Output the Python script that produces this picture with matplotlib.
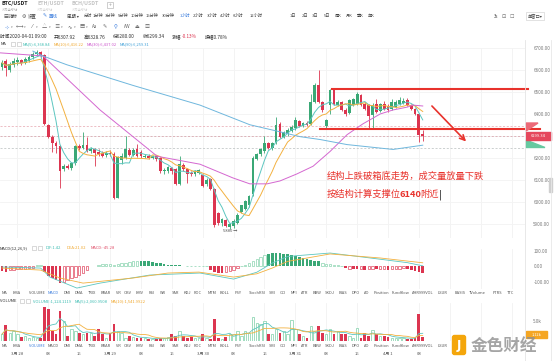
import numpy as np
import pandas as pd
import matplotlib
matplotlib.use('Agg')
import matplotlib.pyplot as plt
from matplotlib.patches import Rectangle, Polygon, FancyBboxPatch

plt.rcParams['font.family'] = ['Noto Sans CJK SC', 'DejaVu Sans']

W, H = 557, 361

# BTC/USDT 1h candles, 2020-03-27 20:00 -> 2020-04-01 09:00
opens = [6615, 6640, 6602, 6625, 6635, 6645, 6632, 6642, 6658, 6672,
         6680, 6668, 6352, 6298, 6268, 6255, 6150, 6166, 6155, 6177,
         6254, 6248, 6258, 6235, 6240, 6230, 6226, 6214, 6225, 6220,
         6021, 6190, 6200, 6238, 6215, 6240, 6230, 6205, 6212, 6200,
         6208, 6200, 6140, 6142, 6155, 6150, 6084, 6170, 6150, 6135,
         6128, 6135, 6125, 6085, 6105, 6062, 5950, 5905, 5920, 5890,
         5895, 5905, 5955, 5972, 5986, 6039, 6196, 6218, 6231, 6267,
         6245, 6276, 6356, 6298, 6310, 6325, 6335, 6368, 6345, 6362,
         6356, 6455, 6530, 6455, 6345, 6441, 6508, 6441, 6455, 6420,
         6405, 6441, 6445, 6485, 6446, 6440, 6395, 6446, 6415, 6446,
         6438, 6423, 6432, 6446, 6450, 6465, 6441, 6423, 6400, 6307.92]
highs = [6645, 6650, 6635, 6655, 6660, 6652, 6660, 6668, 6680, 6690,
         6688, 6672, 6356, 6305, 6280, 6262, 6172, 6175, 6182, 6262,
         6265, 6317, 6298, 6250, 6245, 6240, 6232, 6232, 6236, 6228,
         6212, 6225, 6300, 6245, 6245, 6265, 6236, 6220, 6218, 6215,
         6212, 6205, 6155, 6165, 6160, 6155, 6209, 6178, 6155, 6140,
         6145, 6150, 6130, 6111, 6110, 6066, 5955, 5930, 5925, 5905,
         5925, 5950, 5990, 6012, 6035, 6210, 6225, 6245, 6300, 6275,
         6275, 6387, 6365, 6325, 6335, 6350, 6387, 6375, 6365, 6368,
         6490, 6540, 6602, 6460, 6380, 6515, 6512, 6462, 6460, 6428,
         6470, 6475, 6500, 6492, 6455, 6448, 6450, 6470, 6450, 6460,
         6446, 6470, 6465, 6480, 6475, 6475, 6448, 6430, 6405, 6328.76]
lows = [6600, 6575, 6590, 6615, 6625, 6622, 6628, 6636, 6650, 6665,
        6660, 6350, 6290, 6230, 6222, 6066, 6140, 6150, 6148, 6170,
        6238, 6244, 6228, 6225, 6164, 6210, 6205, 6206, 6212, 6015,
        6018, 6175, 6195, 6208, 6210, 6205, 6200, 6200, 6195, 6195,
        6188, 6135, 6130, 6135, 6128, 6078, 6080, 6140, 6090, 6120,
        6120, 6128, 6068, 6075, 6055, 5890, 5898, 5895, 5888, 5880,
        5882, 5900, 5950, 5965, 5980, 6030, 6190, 6210, 6225, 6240,
        6238, 6265, 6290, 6290, 6300, 6318, 6330, 6340, 6340, 6345,
        6350, 6450, 6450, 6410, 6335, 6400, 6440, 6435, 6415, 6392,
        6400, 6435, 6440, 6435, 6418, 6334, 6334, 6405, 6410, 6418,
        6412, 6418, 6428, 6440, 6445, 6436, 6418, 6395, 6276, 6280.00]
closes = [6633, 6610, 6628, 6640, 6645, 6632, 6650, 6660, 6675, 6682,
          6668, 6356, 6298, 6267, 6255, 6142, 6164, 6158, 6177, 6254,
          6248, 6258, 6235, 6240, 6225, 6218, 6212, 6222, 6218, 6021,
          6205, 6212, 6240, 6215, 6238, 6212, 6209, 6212, 6200, 6208,
          6195, 6142, 6148, 6160, 6140, 6084, 6173, 6150, 6130, 6128,
          6140, 6145, 6075, 6100, 6062, 5896, 5905, 5925, 5895, 5900,
          5915, 5941, 5986, 6008, 6030, 6200, 6218, 6240, 6267, 6245,
          6268, 6352, 6298, 6320, 6330, 6343, 6374, 6345, 6360, 6352,
          6455, 6530, 6455, 6420, 6374, 6510, 6446, 6455, 6420, 6400,
          6463, 6468, 6490, 6441, 6423, 6390, 6441, 6410, 6446, 6423,
          6418, 6455, 6455, 6463, 6460, 6441, 6423, 6400, 6307, 6299.34]
volume_k = [1.7, 3.9, 2.1, 2.5, 1.7, 1.0, 1.25, 0.8, 1.0, 0.7,
            0.7, 8.5, 7.9, 2.5, 1.7, 7.5, 5.0, 1.25, 2.9, 2.5,
            2.1, 1.8, 2.1, 2.1, 1.3, 2.9, 1.7, 0.8, 2.1, 4.2,
            2.5, 2.1, 0.8, 1.25, 1.0, 0.8, 0.7, 0.8, 0.6, 0.4,
            0.4, 0.8, 0.7, 1.0, 1.7, 1.25, 2.5, 1.25, 0.8, 1.0,
            0.8, 0.8, 1.7, 0.8, 0.4, 5.6, 0.8, 0.6, 1.0, 1.7,
            1.7, 2.5, 1.25, 2.5, 2.0, 6.0, 4.6, 4.2, 5.0, 1.8,
            1.7, 2.9, 2.1, 2.5, 1.7, 5.2, 2.9, 1.7, 1.25, 0.8,
            3.75, 2.5, 3.75, 2.1, 1.8, 2.9, 1.8, 2.5, 1.7, 1.7,
            1.25, 0.8, 3.2, 0.8, 2.1, 1.25, 2.7, 1.7, 1.25, 1.25,
            1.0, 0.8, 0.8, 0.8, 0.8, 0.6, 0.4, 0.8, 6.7, 1.12]
macd_hist = [-32, -36, -28, -25, -22, -20, -18, -15, -10, 4,
             6, -40, -65, -78, -88, -110, -100, -90, -80, -68,
             -55, -42, -28, 2, 3, 10, 13, 13, 12, 6,
             12, 18, 22, 26, 30, 32, 33, 32, 30, 26,
             22, 18, 14, 10, 6, 5, 4, 3, 3, 3,
             2, 2, 3, 2, -26, -38, -45, -45, -38, -32,
             -25, -15, 3, 8, 19, 32, 45, 58, 71, 80,
             84, 84, 82, 78, 75, 70, 65, 58, 52, 45,
             40, 35, 30, 19, 15, 12, 9, 6, 1, -12,
             -18, -20, -22, -18, -24, -20, -18, -22, -20, -22,
             -24, -20, -18, -16, -14, -18, -28, -34, -40, -45.28]
# f = solid bar, h = hollow bar
macd_style = ("ff" "hhhhhhh" "hh" "fffff" "hhhhhhh" "ff" "hhhhh" "hhhhhh"
              "ffffffff" "ffff" "hhhhhh" "ffff" "hhhh" "hh" "hhhhh"
              "ffffffffffffff" "hhhhhh" "fhffhfhhfhhfhhhhfffff")

dif_idx = [0, 10, 12.4, 19.4, 25.4, 38.3, 51.3, 60, 66, 70, 74, 85, 93.5, 105, 109]
dif_val = [-6, -13, -71, -142, -110, -58, -45, -84, -40, 19, 62, 84, 58, 22, 1.42]
dea_idx = [0, 10, 15, 21, 34, 43, 51, 60, 66, 70, 74, 85, 98, 109]
dea_val = [-13, -26, -77, -110, -77, -45, -39, -71, -50, -13, 30, 78, 52, 21.02]

ma30_idx = [-0.5, 10.6, 25.4, 40.2, 51.3, 59.8, 64.2, 68.7, 72, 76.4, 80.6, 85, 89.4, 93.5, 98, 101.3, 105, 106.5, 109]
ma30_val = [6678, 6664, 6419, 6209, 6173, 6111, 6084, 6084, 6097, 6129, 6164, 6231, 6307, 6356, 6401, 6419, 6432, 6441, 6437.02]
ma90_idx = [8, 10.6, 16.8, 34, 51.3, 64.2, 72, 77.2, 82.4, 89.4, 101.3, 109]
ma90_val = [6686, 6664, 6624, 6530, 6441, 6352, 6320, 6298, 6285, 6262, 6240, 6259.31]

price_ticks = [5900, 6000, 6100, 6200, 6300, 6400, 6500, 6600, 6700]
ref_lines = [6345, 6299.34, 6246]
date_idx = [4, 12, 20, 28, 36, 44, 52, 60, 68, 76, 84, 92, 100, 108]
date_labels = ['3月 28', '08', '16', '3月 29', '08', '16', '3月 30', '08', '16',
               '3月 31', '08', '16', '4月 1', '08']
grid_idx = date_idx + [116, 124, 132]

tabs = ['MA', 'EMA', 'VOLUME', 'MACD', 'DMI', 'DMA', 'TRIX', 'BRAR', 'VR', 'OBV',
        'EMV', 'RSI', 'WR', 'SAR', 'KDJ', 'ROC', 'MTM', 'BOLL', 'PSY', 'StochRSI',
        'SMI', 'CCI', 'MFI', 'ATR', 'BBW', 'SKDJ', 'BIAS', 'DPO', 'AO', 'Position',
        'Fundflow', 'AHR999VOL', 'LSUR', 'BASIS', 'TVolume', 'FTRS', 'TTC']
tab_x = [5, 17, 37, 53, 67, 79, 92, 106, 118, 128,
         140, 152, 163, 175, 187, 198, 212, 225, 238, 257,
         272, 283, 294, 305, 317, 330, 343, 356, 367, 381,
         401, 423, 443, 460, 477, 497, 511]

periods = ['分时', '1分钟', '3分钟', '5分钟', '10分钟', '15分钟', '30分钟', '1小时', '2小时',
           '3小时', '4小时', '6小时', '12小时', '1日', '2日', '3日', '5日', '周K', '月K', '季K', '年K']
period_x = [88, 98, 110, 123, 137, 152, 168, 185, 198, 212, 225, 238, 256,
            293, 305, 315, 327, 338, 349, 360, 371]

RED = '#dc3550'
GREEN = '#3aa876'
GREEN_L = '#7ccfa6'
ANN = '#e8322c'

x0, step = 2.0, 3.86          # pixel position of candle 0 and spacing
xl = ((0 - x0) / step, (525 - x0) / step)


def i_of(xp):
    return (xp - x0) / step


fig = plt.figure(figsize=(W / 100, H / 100), dpi=100)
fig.patch.set_facecolor('white')


def add_panel(y_top, y_bot):
    a = fig.add_axes([0, 1 - y_bot / H, 525 / W, (y_bot - y_top) / H])
    a.set_xlim(*xl)
    for s in a.spines.values():
        s.set_visible(False)
    a.set_xticks([])
    a.yaxis.tick_right()
    a.tick_params(axis='y', length=0, pad=6, labelsize=3.3, labelcolor='#777777')
    for gi in grid_idx:
        a.axvline(gi, color='#f1f1f1', lw=0.6, zorder=0)
    return a


idx = np.arange(len(closes))
o = np.array(opens)
c = np.array(closes)
up = c >= o
col = np.where(up, GREEN, RED)

# ---- price panel
ax = add_panel(48, 238)
ax.set_ylim(5838.4, 6686.6)
ax.set_yticks(price_ticks)
# the 6300 label sits under the last-price tag
ax.set_yticklabels(['' if v == 6300 else f'{v:.2f}' for v in price_ticks])
for v in price_ticks:
    ax.axhline(v, color='#f3f3f3', lw=0.6, zorder=0)
for v, lc in zip(ref_lines, ['#eab3bb', '#d9a9b0', '#c4c9c9']):
    ax.axhline(v, color=lc, lw=0.6, ls=(0, (2.5, 2)), zorder=1)

ax.vlines(idx, lows, highs, colors=col, lw=0.6, zorder=3)
body = np.maximum(np.abs(c - o), 2.5)
ax.bar(idx, body, bottom=np.minimum(o, c), width=0.72, color=col, zorder=4)

close_s = pd.Series(closes)
ax.plot(idx, close_s.rolling(5, min_periods=1).mean(), color='#5cc6c0', lw=0.7, zorder=5)
ax.plot(idx, close_s.rolling(10, min_periods=1).mean(), color='#f3b140', lw=0.7, zorder=5)
ax.plot(ma30_idx, ma30_val, color='#d467d0', lw=0.7, zorder=5)
ax.plot(ma90_idx, ma90_val, color='#6fb7dd', lw=0.7, zorder=5)
ax.text(59, 5868, '5880 →', fontsize=3.0, color='#555555', ha='center', va='center')

# drawn annotations
ax.plot([i_of(332), i_of(528)], [6512, 6512], color=ANN, lw=1.5, clip_on=False, zorder=6)
ax.plot([i_of(320), i_of(540)], [6334, 6334], color=ANN, lw=1.5, clip_on=False, zorder=6)
ax.annotate('', xy=(i_of(468), 6267), xytext=(i_of(430), 6446), annotation_clip=False,
            arrowprops=dict(arrowstyle='->', color=ANN, lw=1.2, mutation_scale=9), zorder=6)
ax.text(i_of(327), 6120, '结构上跌破箱底走势，成交量放量下跌', color=ANN, fontsize=6.7,
        va='center', ha='left', zorder=7)
t1 = ax.text(i_of(327), 6035, '按结构计算支撑位', color=ANN, fontsize=6.7, va='center', ha='left', zorder=7)
t2 = ax.annotate('6140', xy=(1, 0.5), xycoords=t1, xytext=(-0.8, 0), textcoords='offset points',
                 va='center', ha='left', color=ANN, fontsize=6.7, weight='bold', zorder=7)
t3 = ax.annotate('附近', xy=(1, 0.5), xycoords=t2, xytext=(-0.8, 0), textcoords='offset points',
                 va='center', ha='left', color=ANN, fontsize=6.7, zorder=7)
ax.annotate('|', xy=(1, 0.5), xycoords=t3, va='center', ha='left', color='#222222',
            fontsize=7, family='DejaVu Sans', zorder=7)

# ---- MACD panel
axm = add_panel(249, 289)
axm.set_ylim(-148, 110)
axm.set_yticks([100, 0, -100])
axm.set_yticklabels(['100.00', '0.00', '-100.00'])
for i, v in enumerate(macd_hist):
    cc = GREEN if v >= 0 else RED
    if macd_style[i] == 'f':
        axm.bar(i, v, width=0.7, color=cc, zorder=3)
    else:
        axm.bar(i, v, width=0.62, facecolor='white', edgecolor=(GREEN_L if v >= 0 else RED), lw=0.45, zorder=3)
axm.plot(dif_idx, dif_val, color='#5cc6c0', lw=0.6, zorder=4)
axm.plot(dea_idx, dea_val, color='#f3b140', lw=0.6, zorder=4)

# ---- volume panel
axv = add_panel(303, 341)
axv.set_ylim(0, 9.5)
axv.set_yticks([5])
axv.set_yticklabels(['5.0k'])
for i, v in enumerate(volume_k):
    if up[i]:
        axv.bar(i, v, width=0.62, facecolor='white', edgecolor=GREEN_L, lw=0.5, zorder=3)
    else:
        axv.bar(i, v, width=0.72, color=RED, zorder=3)
vol_s = pd.Series(volume_k)
axv.plot(idx, vol_s.rolling(5, min_periods=1).mean(), color='#5cc6c0', lw=0.6, zorder=4)
axv.plot(idx, vol_s.rolling(10, min_periods=1).mean(), color='#f3b140', lw=0.6, zorder=4)

# ---- overlay in pixel coordinates for the UI chrome
ov = fig.add_axes([0, 0, 1, 1], zorder=10)
ov.set_xlim(0, W)
ov.set_ylim(H, 0)
ov.axis('off')


def T(x, y, s, size=3.2, color='#444444', **kw):
    return ov.text(x, y, s, fontsize=size, color=color, va='center', **kw)


def chain(x, y, parts, size, gap=1.6):
    prev = T(x, y, parts[0][0], size, parts[0][1])
    for s, cl, g in parts[1:]:
        prev = ov.annotate(s, xy=(1, 0.5), xycoords=prev, xytext=(g, 0), textcoords='offset points',
                           va='center', ha='left', fontsize=size, color=cl)
    return prev


ov.plot([525, 525], [40, H], color='#e4e4e4', lw=0.6)
ov.plot([551, 551], [40, H], color='#e8e8e8', lw=0.6)
ov.add_patch(Rectangle((548.5, 178), 3, 14, color='#cfcfcf'))

# tabs
T(2, 4, 'BTC/USDT', 3.8, '#222222', weight='bold')
T(2, 9.5, '火币全球站', 2.3, '#aaaaaa')
T(37, 4, 'ETH/USDT', 3.8, '#c4c4c4', weight='bold')
T(37, 9.5, '火币全球站', 2.3, '#d0d0d0')
T(72, 4, 'BCH/USDT', 3.8, '#c4c4c4', weight='bold')
T(72, 9.5, '火币全球站', 2.3, '#d0d0d0')
ov.add_patch(Rectangle((107, 2), 6, 6, fill=False, ec='#bbbbbb', lw=0.5))
T(110, 5, '+', 3.8, '#999999', ha='center')

# toolbar
T(3, 16, '▤', 3.6, '#555555')
T(9, 16, '指标', 3.2)
T(22, 16, '⚙', 3.6, '#555555')
T(28, 16, '设置', 3.2)
T(43, 16, '✎', 3.6, '#3b7ddd')
T(49, 16, '画线', 3.2, '#3b7ddd')
T(67, 16, '周期 ▾', 3.2)
for s, xp in zip(periods, period_x):
    T(xp, 16, s, 3.0, '#3b7ddd' if s == '1小时' else '#444444', ha='center')
T(494, 16, '3s', 3.2)
T(502, 16, '⊡', 3.6, '#666666')
T(510, 16, '☐', 3.6, '#666666')
T(535, 16, '单窗口▾', 3.1, '#444444', ha='center',
  bbox=dict(boxstyle='square,pad=0.25', fc='white', ec='#cccccc', lw=0.4))

# drawing tools
tools = ['⊹', '⟷', '⁄', '△', '≡', '∿', '▤']
for k, s in enumerate(tools):
    T(7 + k * 12.5, 27, s, 3.8, '#3b7ddd' if k == 0 else '#666666', ha='center')
    T(12 + k * 12.5, 27.5, '▾', 2.4, '#888888', ha='center')
T(95, 27, 'Aa', 3.3, '#666666', ha='center')
T(105, 27, '✎', 3.8, '#666666', ha='center')
T(116, 27, '⚲', 3.8, '#3b7ddd', ha='center')
T(127, 27, 'ꟿ', 3.4, '#666666', ha='center')
T(137, 27, '⏏', 3.6, '#666666', ha='center')
T(147, 27, '▥', 3.6, '#666666', ha='center')

# info line
chain(0, 37, [('时间2020-04-01 09:00', '#333333'), ('开6307.92', '#333333', 5.5),
              ('高6328.76', '#333333', 5.5), ('低6280.00', '#333333', 5.5), ('收6299.34', '#333333', 5.5),
              ('涨幅', '#333333', 5.5), ('-0.13%', RED, 0.3), ('振幅0.78%', '#333333', 5.5)], 3.4)
T(1, 44, 'MA', 3.0, '#333333')
ov.add_patch(Rectangle((11, 42), 4, 4, fill=False, ec='#bbbbbb', lw=0.4))
ov.add_patch(Rectangle((17, 42), 4, 4, fill=False, ec='#bbbbbb', lw=0.4))
chain(23, 44, [('MA(5):6,368.84', '#3fbdb3'), ('MA(10):6,416.22', '#f0a830', 2.2),
               ('MA(30):6,437.02', '#cc55cc', 2.2), ('MA(90):6,259.31', '#3fa0d8', 2.2)], 2.9)

# price marker on the right
ov.add_patch(Polygon([(526, 123), (538, 123), (526, 131)], color='#ec6a78'))
ov.add_patch(Polygon([(526, 140), (545, 147.5), (526, 147.5)], color='#66c9a0'))
ov.add_patch(Rectangle((526, 132), 25, 8, color='#e5475c'))
T(538.5, 136, '6299.34', 3.0, 'white', ha='center')

# macd header
T(0, 248, 'MACD(12,26,9)', 3.0, '#333333')
ov.add_patch(Rectangle((32, 246), 4, 4, fill=False, ec='#bbbbbb', lw=0.4))
ov.add_patch(Rectangle((38, 246), 4, 4, fill=False, ec='#bbbbbb', lw=0.4))
chain(46, 248, [('DIF:1.42', '#3fbdb3'), ('DEA:21.02', '#f0a830', 3.5), ('MACD:-45.28', '#e0506a', 3.5)], 3.0)

# indicator tab rows (the lower row is covered by the watermark after LSUR)
for s, xp in zip(tabs, tab_x):
    T(xp, 293, s, 2.9, '#3b7ddd' if s == 'MACD' else '#555555', ha='center')
for s, xp in zip(tabs[:33], tab_x[:33]):
    T(xp, 346, s, 2.9, '#3b7ddd' if s == 'VOLUME' else '#555555', ha='center')

# volume header
T(0, 301, 'VOLUME', 3.0, '#333333')
ov.add_patch(Rectangle((20, 299), 4, 4, fill=False, ec='#bbbbbb', lw=0.4))
ov.add_patch(Rectangle((26, 299), 4, 4, fill=False, ec='#bbbbbb', lw=0.4))
chain(33, 301, [('VOLUME:1,124.1119', '#3fbdb3'), ('MA(5):2,060.9508', '#3fbdb3', 2.5),
                ('MA(10):1,541.9922', '#f0a830', 2.5)], 3.0)
ov.add_patch(Rectangle((526, 331), 21, 7, color='#f5a623'))
T(536.5, 334.5, '1.12k', 2.8, 'white', ha='center')

# date axis
for di, s in zip(date_idx, date_labels):
    T(x0 + di * step, 354, s, 3.0, '#555555', ha='center')

# watermark logo
ov.add_patch(FancyBboxPatch((453, 336), 12, 18, boxstyle='round,pad=0.5,rounding_size=2',
                            color='#f4a60b'))
T(459, 345, 'J', 8.5, 'white', ha='center', weight='bold', family='DejaVu Sans')
T(471, 345.5, '金色财经', 12, '#8f8f8f', weight='bold', alpha=0.8)

fig.savefig('out.png', dpi=100, facecolor='white')
